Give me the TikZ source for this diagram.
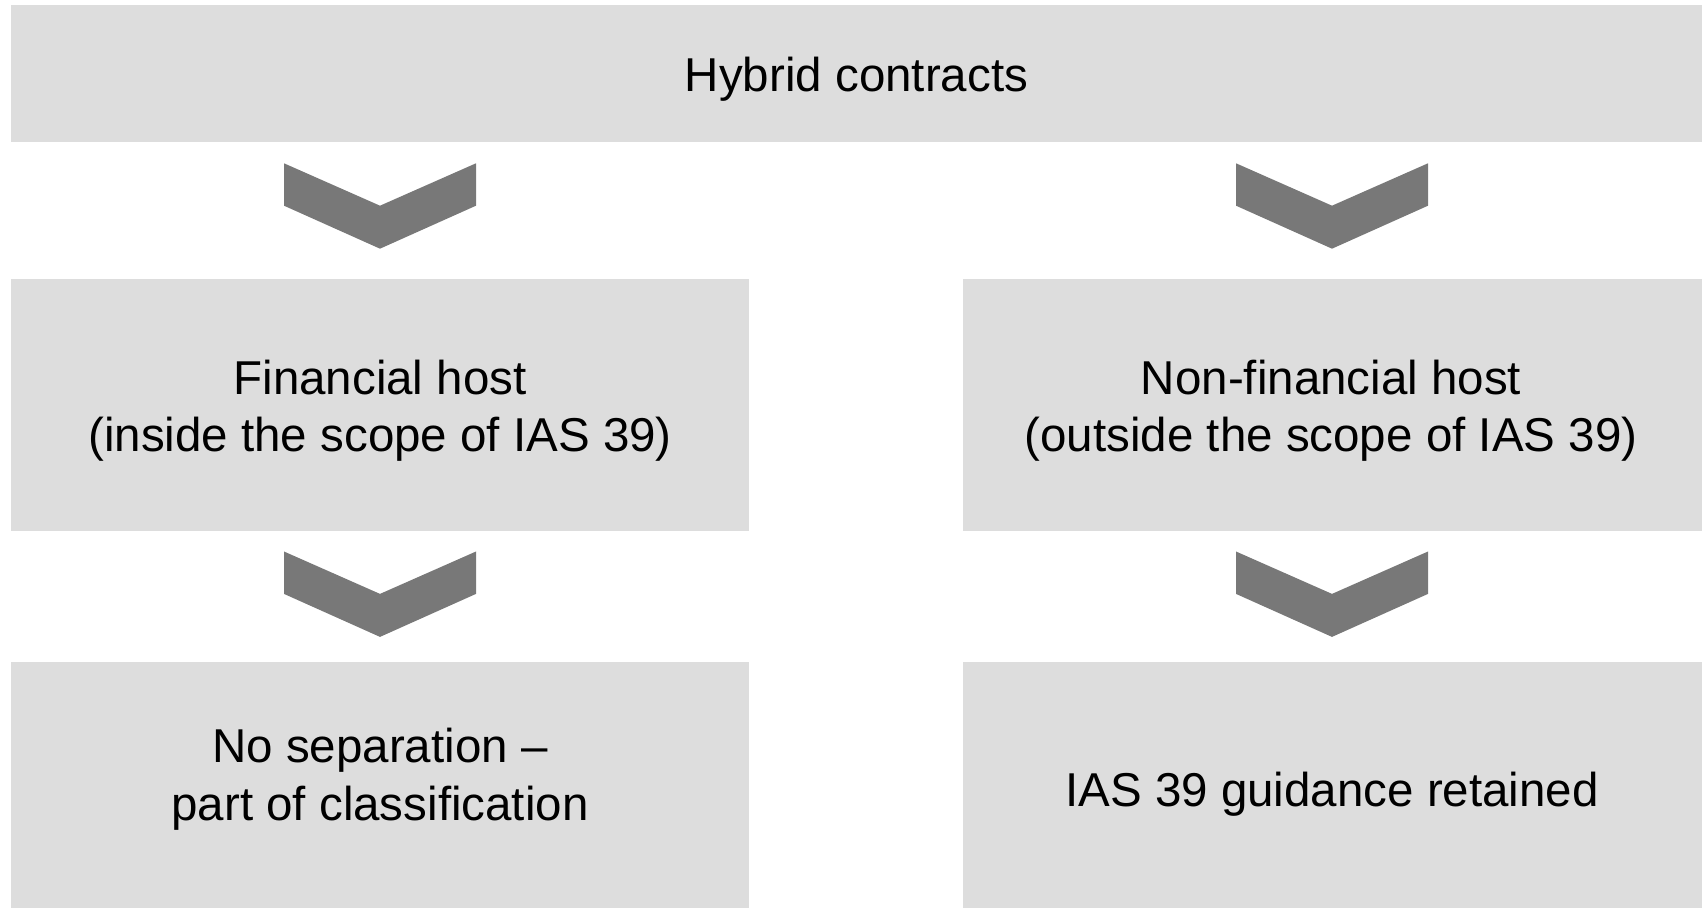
\documentclass[tikz,border=0pt]{standalone}
\usepackage{fontspec}
\setmainfont{Liberation Sans}
\definecolor{boxgray}{HTML}{DDDDDD}
\definecolor{chevgray}{HTML}{787878}
\begin{document}
\begin{tikzpicture}[x=0.5pt,y=-0.5pt,
  box/.style={fill=boxgray,draw=none,inner sep=0pt,outer sep=0pt,rectangle},
  txt/.style={font=\fontsize{23.75}{28.6}\selectfont,align=center,inner sep=0pt,anchor=base,text=black},
  chev/.style={fill=chevgray,draw=none}]
\useasboundingbox (0,0) rectangle (1702,908);
% boxes
\node[box,minimum width=845.5pt,minimum height=68.5pt] (top) at (856.5,73.5) {};
\node[box,minimum width=369pt,minimum height=126pt] (fin) at (380,405) {};
\node[box,minimum width=369.5pt,minimum height=126pt] (nonfin) at (1332.5,405) {};
\node[box,minimum width=369pt,minimum height=126pt,anchor=north] (nosep) at (380,662) {};
\node[box,minimum width=369.5pt,minimum height=126pt,anchor=north] (ret) at (1332.5,662) {};
% texts (base anchor = baseline of the last line)
\node[txt] (ttop) at (856.5,91.7) {Hybrid contracts};
\node[txt] (tfin) at (380,451.7) {Financial host\\(inside the scope of IAS 39)};
\node[txt] (tnonfin) at (1331,451.7) {Non-financial host\\(outside the scope of IAS 39)};
\node[txt] (tnosep) at (380,820) {No separation –\\part of classification};
\node[txt] (tret) at (1332,806) {IAS 39 guidance retained};
% chevrons
\foreach \cx/\ty in {380/163.3, 1332/163.3, 380/551.5, 1332/551.5}{
  \fill[chev] (\cx-96,\ty) -- (\cx,\ty+42.4) -- (\cx+96,\ty) -- (\cx+96,\ty+42.4)
    -- (\cx,\ty+85.4) -- (\cx-96,\ty+42.4) -- cycle;
}
\end{tikzpicture}
\end{document}
